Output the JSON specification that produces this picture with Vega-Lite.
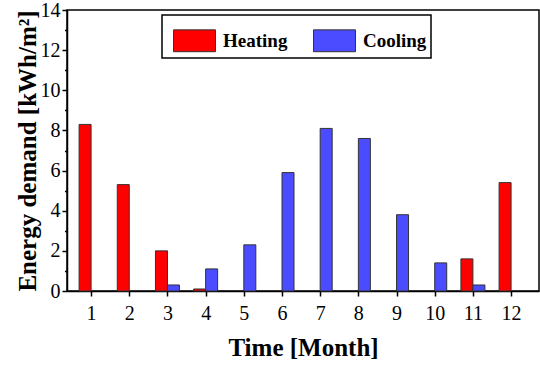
{
  "$schema": "https://vega.github.io/schema/vega-lite/v6.json",
  "width": 472,
  "height": 281,
  "autosize": {"type": "none"},
  "padding": {"left": 67, "top": 10, "right": 1, "bottom": 75},
  "background": "white",
  "config": {
    "font": "Liberation Serif",
    "view": {"stroke": "black", "strokeWidth": 1.5},
    "axis": {
      "grid": false,
      "domainColor": "black",
      "domainWidth": 1.5,
      "tickColor": "black",
      "tickWidth": 1.5,
      "labelColor": "black",
      "labelFont": "Liberation Serif",
      "labelFontSize": 20,
      "titleColor": "black",
      "titleFont": "Liberation Serif",
      "titleFontSize": 25,
      "titleFontWeight": "bold"
    },
    "legend": {"strokeWidth": 1.5}
  },
  "data": {
    "values": [
      {"month": 1, "type": "Heating", "value": 8.3},
      {"month": 2, "type": "Heating", "value": 5.3},
      {"month": 3, "type": "Heating", "value": 2.0},
      {"month": 4, "type": "Heating", "value": 0.1},
      {"month": 11, "type": "Heating", "value": 1.6},
      {"month": 12, "type": "Heating", "value": 5.4},
      {"month": 3, "type": "Cooling", "value": 0.3},
      {"month": 4, "type": "Cooling", "value": 1.1},
      {"month": 5, "type": "Cooling", "value": 2.3},
      {"month": 6, "type": "Cooling", "value": 5.9},
      {"month": 7, "type": "Cooling", "value": 8.1},
      {"month": 8, "type": "Cooling", "value": 7.6},
      {"month": 9, "type": "Cooling", "value": 3.8},
      {"month": 10, "type": "Cooling", "value": 1.4},
      {"month": 11, "type": "Cooling", "value": 0.3}
    ]
  },
  "encoding": {
    "x": {
      "field": "month",
      "type": "quantitative",
      "scale": {"domain": [0.5, 12.6], "nice": false, "zero": false},
      "axis": {
        "title": "Time [Month]",
        "values": [1, 1.5, 2, 2.5, 3, 3.5, 4, 4.5, 5, 5.5, 6, 6.5, 7, 7.5, 8, 8.5, 9, 9.5, 10, 10.5, 11, 11.5, 12, 12.5],
        "format": "d",
        "labelExpr": "datum.value % 1 === 0 ? datum.label : ''",
        "tickSize": {"condition": {"test": "datum.value % 1 !== 0", "value": 2.5}, "value": 5},
        "labelPadding": 7,
        "titlePadding": 12,
        "labelFlush": false,
        "labelOverlap": false
      }
    },
    "y": {
      "field": "value",
      "type": "quantitative",
      "scale": {"domain": [0, 14], "nice": false},
      "axis": {
        "title": "Energy demand [kWh/m²]",
        "values": [0, 1, 2, 3, 4, 5, 6, 7, 8, 9, 10, 11, 12, 13, 14],
        "format": "d",
        "labelExpr": "datum.value % 2 === 0 ? datum.label : ''",
        "tickSize": {"condition": {"test": "datum.value % 2 !== 0", "value": 2.5}, "value": 5},
        "labelPadding": 2,
        "titlePadding": 0,
        "labelFlush": false,
        "labelOverlap": false
      }
    },
    "color": {
      "field": "type",
      "type": "nominal",
      "scale": {"domain": ["Heating", "Cooling"], "range": ["#FF0000", "#4B4BFF"]},
      "legend": {
        "title": null,
        "orient": "none",
        "legendX": 95,
        "legendY": 5,
        "direction": "horizontal",
        "padding": 4,
        "fillColor": "white",
        "strokeColor": "black",
        "symbolType": "M-1,-0.52H1V0.52H-1Z",
        "symbolSize": 1764,
        "symbolOffset": 7,
        "symbolStrokeColor": "#333333",
        "symbolStrokeWidth": 1,
        "symbolOpacity": 1,
        "labelFont": "Liberation Serif",
        "labelFontSize": 19,
        "labelFontWeight": "bold",
        "labelColor": "black",
        "labelOffset": 7,
        "columnPadding": 18
      }
    }
  },
  "layer": [
    {
      "transform": [{"filter": "datum.type === 'Heating'"}],
      "mark": {"type": "bar", "width": 12, "xOffset": -6, "stroke": "#333333", "strokeWidth": 1, "opacity": 1}
    },
    {
      "transform": [{"filter": "datum.type === 'Cooling'"}],
      "mark": {"type": "bar", "width": 12, "xOffset": 6, "stroke": "#333333", "strokeWidth": 1, "opacity": 1}
    }
  ]
}
